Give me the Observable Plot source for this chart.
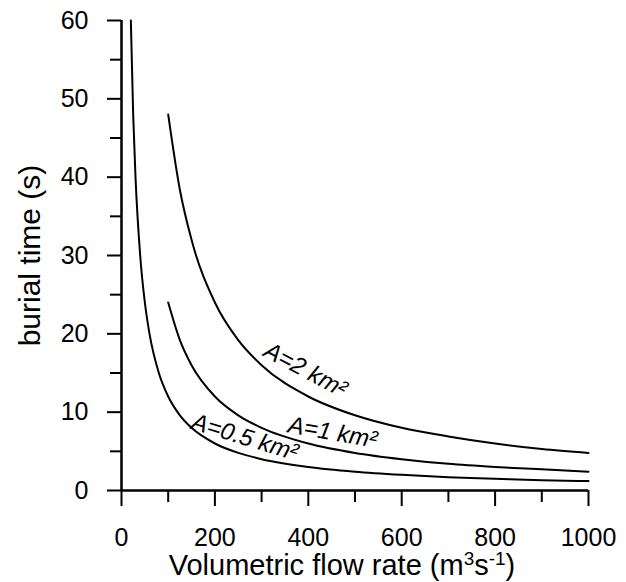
<!DOCTYPE html>
<html>
<head>
<meta charset="utf-8">
<script src="https://cdn.jsdelivr.net/npm/d3@7"></script>
<script src="https://cdn.jsdelivr.net/npm/@observablehq/plot@0.6"></script>
<style>
  html, body { margin: 0; padding: 0; background: #fff; }
  #chart svg { display: block; }
</style>
</head>
<body>
<div id="chart"></div>
<script>
// Readings from the reference (Q in m3/s, burial time in s)
const qA05 = [20, 25, 30, 40, 50, 60, 80, 100, 125, 150, 200, 250, 300, 400, 500, 600, 700, 800, 900, 1000];
const tA05 = [60, 48, 40, 30, 24, 20, 15, 12, 9.6, 8, 6, 4.8, 4, 3, 2.4, 2, 1.7, 1.5, 1.3, 1.2];
const qA1 = [100, 125, 150, 200, 250, 300, 400, 500, 600, 700, 800, 900, 1000];
const tA1 = [24, 19.2, 16, 12, 9.6, 8, 6, 4.8, 4, 3.4, 3, 2.7, 2.4];
const qA2 = [100, 125, 150, 200, 250, 300, 400, 500, 600, 700, 800, 900, 1000];
const tA2 = [48, 38.4, 32, 24, 19.2, 16, 12, 9.6, 8, 6.9, 6, 5.3, 4.8];

const seriesNames = ["A=0.5 km²", "A=1 km²", "A=2 km²"];
const labelQ = [264, 452, 394];
const labelT = [6.8, 7.4, 15.4];
const labelAngle = [17, 10, 28];

const xMajorTicks = [0, 200, 400, 600, 800, 1000];
const xMinorTicks = [100, 300, 500, 700, 900];
const yMajorTicks = [0, 10, 20, 30, 40, 50, 60];
const yMinorTicks = [5, 15, 25, 35, 45, 55];

const xTitle = "Volumetric flow rate (m3s-1)";
const yTitle = "burial time (s)";

const lines = [
  ...qA05.map((q, i) => ({series: seriesNames[0], q, t: tA05[i]})),
  ...qA1.map((q, i) => ({series: seriesNames[1], q, t: tA1[i]})),
  ...qA2.map((q, i) => ({series: seriesNames[2], q, t: tA2[i]}))
];
const labels = seriesNames.map((s, i) => ({text: s, q: labelQ[i], t: labelT[i], a: labelAngle[i]}));

const font = "'Liberation Sans', Arial, sans-serif";

const chart = Plot.plot({
  width: 626,
  height: 582,
  marginLeft: 121,
  marginRight: 38,
  marginTop: 20,
  marginBottom: 92,
  style: {fontFamily: font, color: "#000", background: "#fff"},
  x: {domain: [0, 1000]},
  y: {domain: [0, 60]},
  marks: [
    Plot.axisX({ticks: xMajorTicks, tickSize: 16, tickPadding: 22, fontSize: 25, strokeWidth: 2, label: null, tickFormat: d => String(d)}),
    Plot.axisX({ticks: xMinorTicks, tickSize: 12, strokeWidth: 2, text: null, label: null}),
    Plot.axisY({ticks: yMajorTicks, tickSize: 14, tickPadding: 19, fontSize: 25, strokeWidth: 2, label: null}),
    Plot.axisY({ticks: yMinorTicks, tickSize: 11, strokeWidth: 2, text: null, label: null}),
    Plot.ruleX([0], {stroke: "#000", strokeWidth: 2.5}),
    Plot.ruleY([0], {stroke: "#000", strokeWidth: 2.5}),
    Plot.line(lines, {x: "q", y: "t", z: "series", stroke: "#000", strokeWidth: 2, curve: "monotone-x"}),
    Plot.text(labels, {x: "q", y: "t", text: "text", rotate: "a", fontSize: 24, fontStyle: "italic", fill: "#000"}),
    Plot.text([xTitle], {frameAnchor: "bottom", textAnchor: "middle", dx: -13, dy: 84, fontSize: 29, fill: "#000"}),
    Plot.text([yTitle], {frameAnchor: "left", textAnchor: "middle", rotate: -90, dx: -91, fontSize: 30, fill: "#000"})
  ]
});

// superscripts in the x title
chart.querySelectorAll("text").forEach(el => {
  if (el.textContent === xTitle) {
    el.textContent = "";
    const parts = [["Volumetric flow rate (m", false], ["3", true], ["s", false], ["-1", true], [")", false]];
    for (const [s, sup] of parts) {
      const ts = document.createElementNS("http://www.w3.org/2000/svg", "tspan");
      ts.textContent = s;
      if (sup) { ts.setAttribute("font-size", "19"); ts.setAttribute("baseline-shift", "super"); }
      el.appendChild(ts);
    }
  }
});

document.getElementById("chart").appendChild(chart);
</script>
</body>
</html>
